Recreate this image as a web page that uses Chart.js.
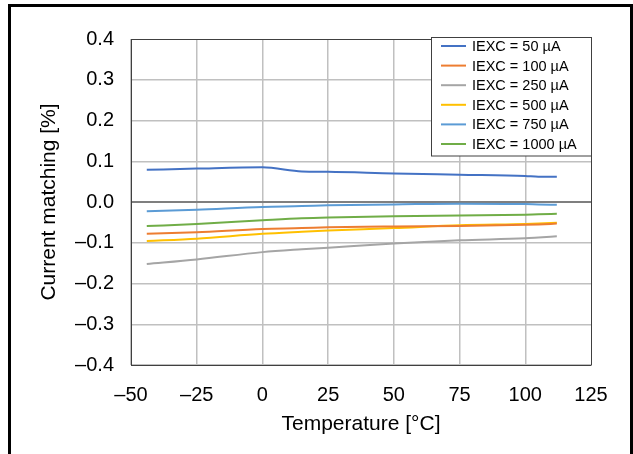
<!DOCTYPE html>
<html>
<head>
<meta charset="utf-8">
<script src="https://cdn.jsdelivr.net/npm/chart.js@4/dist/chart.umd.min.js"></script>
<style>
  body { margin: 0; background: #fff; }
  #wrap { width: 633px; height: 454px; }
</style>
</head>
<body>
<div id="wrap"><canvas id="myChart" width="633" height="454"></canvas></div>
<script>
// temperatures (°C)
var temps = [-44, -25, 0, 15, 25, 50, 75, 100, 105, 112];

// current matching [%] per excitation current
var iexc50   = [0.079, 0.082, 0.085, 0.075, 0.074, 0.070, 0.067, 0.064, 0.062, 0.062];
var iexc100  = [-0.078, -0.074, -0.066, -0.064, -0.062, -0.060, -0.059, -0.056, -0.055, -0.053];
var iexc250  = [-0.152, -0.141, -0.123, -0.116, -0.112, -0.102, -0.094, -0.089, -0.087, -0.084];
var iexc500  = [-0.096, -0.090, -0.078, -0.073, -0.070, -0.064, -0.057, -0.054, -0.053, -0.051];
var iexc750  = [-0.023, -0.019, -0.012, -0.010, -0.008, -0.006, -0.004, -0.005, -0.006, -0.007];
var iexc1000 = [-0.059, -0.054, -0.045, -0.040, -0.038, -0.035, -0.033, -0.031, -0.030, -0.029];

var seriesLabels = ['IEXC = 50 µA', 'IEXC = 100 µA', 'IEXC = 250 µA', 'IEXC = 500 µA', 'IEXC = 750 µA', 'IEXC = 1000 µA'];
var seriesColors = ['#4472C4', '#ED7D31', '#A5A5A5', '#FFC000', '#5B9BD5', '#70AD47'];
var seriesValues = [iexc50, iexc100, iexc250, iexc500, iexc750, iexc1000];

var FONT = '"Liberation Sans", Arial, sans-serif';

function dash(s) { return String(s).replace('-', '\u2013'); }

function points(vals) {
  return vals.map(function(v, i) { return { x: temps[i], y: v }; });
}

var datasets = seriesValues.map(function(vals, i) {
  return {
    label: seriesLabels[i],
    data: points(vals),
    borderColor: seriesColors[i],
    backgroundColor: seriesColors[i],
    borderWidth: 2,
    pointRadius: 0,
    cubicInterpolationMode: 'monotone',
    fill: false
  };
});

// white page + black frame (left, top, right)
var framePlugin = {
  id: 'frame',
  beforeDraw: function(chart) {
    var ctx = chart.ctx;
    ctx.save();
    ctx.fillStyle = '#fff';
    ctx.fillRect(0, 0, chart.width, chart.height);
    ctx.restore();
  },
  afterDraw: function(chart) {
    var ctx = chart.ctx;
    ctx.save();
    ctx.strokeStyle = '#000';
    ctx.lineWidth = 3;
    ctx.beginPath();
    ctx.moveTo(9.5, chart.height);
    ctx.lineTo(9.5, 5.5);
    ctx.lineTo(631.5, 5.5);
    ctx.lineTo(631.5, chart.height);
    ctx.stroke();
    ctx.restore();
  }
};

// boxed legend in the top right corner
var boxLegend = {
  id: 'boxLegend',
  afterDatasetsDraw: function(chart) {
    var ctx = chart.ctx;
    var x0 = 431.5, y0 = 37.5, w = 160, h = 118.5;
    ctx.save();
    ctx.fillStyle = '#fff';
    ctx.fillRect(x0, y0, w, h);
    ctx.strokeStyle = '#404040';
    ctx.lineWidth = 1;
    ctx.strokeRect(x0, y0, w, h);
    ctx.font = '14.5px ' + FONT;
    ctx.textBaseline = 'middle';
    ctx.fillStyle = '#000';
    chart.data.datasets.forEach(function(ds, i) {
      var y = 46 + i * 19.6;
      ctx.strokeStyle = ds.borderColor;
      ctx.lineWidth = 2;
      ctx.beginPath();
      ctx.moveTo(441, y);
      ctx.lineTo(466, y);
      ctx.stroke();
      ctx.fillText(ds.label, 472, y + 1);
    });
    ctx.restore();
  }
};

var ctx = document.getElementById('myChart');
var myChart = new Chart(ctx, {
  type: 'line',
  data: { datasets: datasets },
  plugins: [framePlugin, boxLegend],
  options: {
    responsive: false,
    animation: false,
    layout: { padding: { left: 12, top: 39, right: 42, bottom: 0 } },
    plugins: {
      legend: { display: false },
      tooltip: { enabled: false }
    },
    scales: {
      x: {
        type: 'linear',
        min: -50,
        max: 125,
        afterFit: function(scale) { scale.height = 89; },
        ticks: {
          stepSize: 25,
          padding: 18,
          color: '#000',
          font: { family: FONT, size: 20 },
          callback: function(v) { return dash(v); }
        },
        grid: {
          drawTicks: false,
          color: function(c) { return c.tick && c.tick.value === 125 ? '#404040' : '#c0c0c0'; },
          lineWidth: function(c) { return c.tick && c.tick.value === 125 ? 1 : 1.5; }
        },
        border: { color: '#404040', width: 1 },
        title: {
          display: true,
          text: 'Temperature [°C]',
          color: '#000',
          font: { family: FONT, size: 21 },
          padding: { top: 0, bottom: 17 }
        }
      },
      y: {
        min: -0.4,
        max: 0.4,
        afterFit: function(scale) { scale.width = 119; },
        ticks: {
          stepSize: 0.1,
          padding: 17,
          color: '#000',
          font: { family: FONT, size: 20 },
          callback: function(v) {
            if (Math.abs(v) < 1e-9) return '0.0';
            return dash(v.toFixed(1));
          }
        },
        grid: {
          drawTicks: false,
          color: function(c) {
            if (!c.tick) return '#c0c0c0';
            if (Math.abs(c.tick.value) < 1e-9) return '#7f7f7f';
            if (Math.abs(c.tick.value - 0.4) < 1e-9) return '#404040';
            return '#c0c0c0';
          },
          lineWidth: function(c) {
            if (!c.tick) return 1.5;
            if (Math.abs(c.tick.value) < 1e-9) return 2;
            if (Math.abs(c.tick.value - 0.4) < 1e-9) return 1;
            return 1.5;
          }
        },
        border: { color: '#404040', width: 1 },
        title: {
          display: true,
          text: 'Current matching [%]',
          color: '#000',
          font: { family: FONT, size: 21 },
          padding: { top: 25, bottom: 0 }
        }
      }
    }
  }
});
</script>
</body>
</html>
